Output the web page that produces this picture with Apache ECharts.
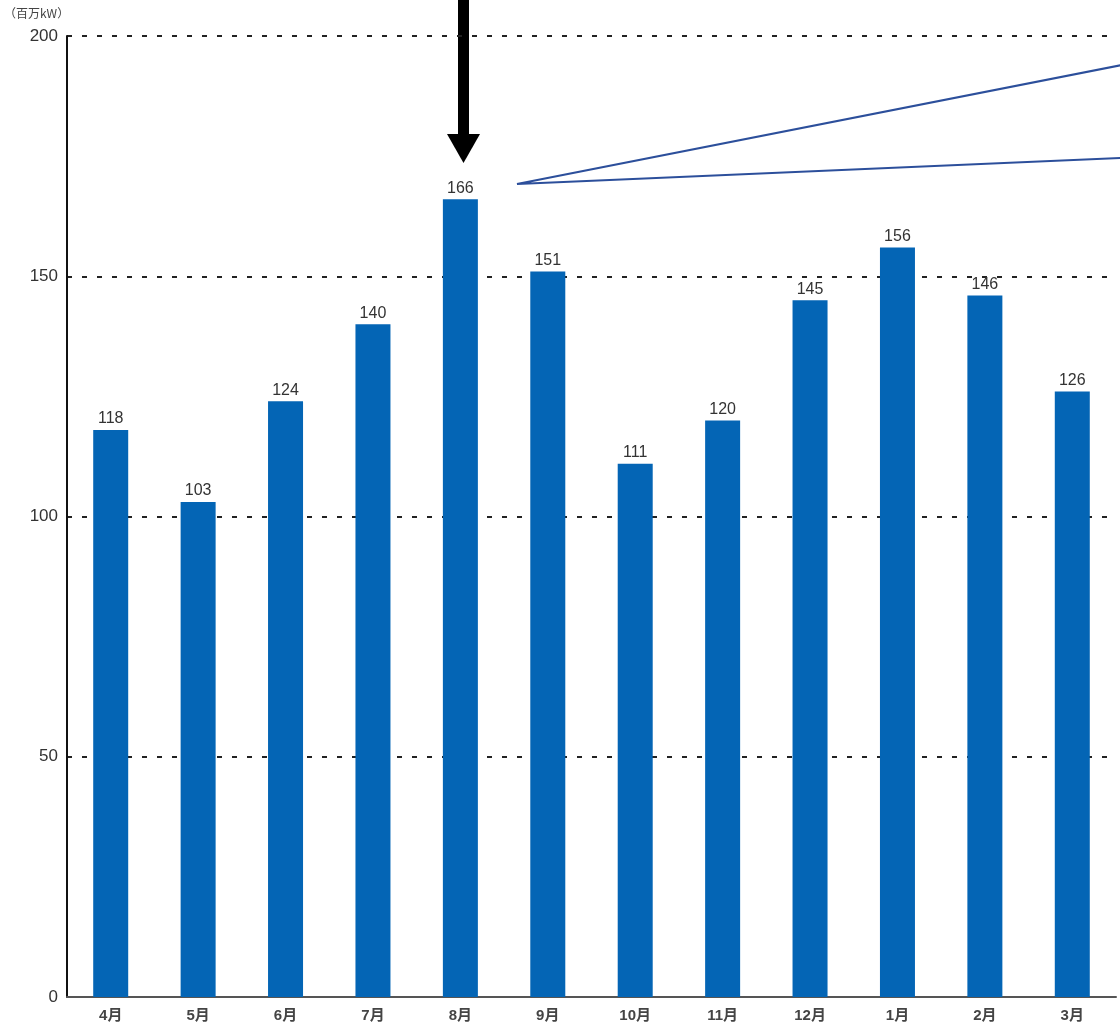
<!DOCTYPE html>
<html>
<head>
<meta charset="utf-8">
<script src="https://cdn.jsdelivr.net/npm/echarts@6/dist/echarts.min.js"></script>
<style>
	html, body { margin: 0; padding: 0; background: #fff; }
	#chart { width: 1120px; height: 1031px; }
</style>
</head>
<body>
<div id="chart"></div>
<script>
// 月別の最大電力（百万kW）
const months = ['4月', '5月', '6月', '7月', '8月', '9月', '10月', '11月', '12月', '1月', '2月', '3月'];
const demand = [118, 103, 124, 140, 166, 151, 111, 120, 145, 156, 146, 126];
const yTicks = [0, 50, 100, 150, 200];
const unitLabel = '（百万kW）';

(function() {
	let myChart = echarts.init(document.getElementById('chart'));
	let font = '"Liberation Sans", "Noto Sans CJK JP", sans-serif';

	let option = {
		animation: false,
		textStyle: { fontFamily: font },
		grid: {
			left: 67,
			right: 4,
			top: 36,
			bottom: 34
		},
		xAxis: {
			type: 'category',
			data: months,
			axisTick: { show: false },
			axisLine: {
				lineStyle: { color: '#555', width: 2 }
			},
			axisLabel: {
				color: '#444',
				fontSize: 15,
				fontWeight: 'bold',
				margin: 11,
				fontFamily: font
			}
		},
		yAxis: {
			type: 'value',
			min: yTicks[0],
			max: yTicks[yTicks.length - 1],
			interval: 50,
			axisLine: {
				show: true,
				lineStyle: { color: '#111', width: 2 }
			},
			axisTick: { show: false },
			axisLabel: {
				color: '#333',
				fontSize: 17,
				margin: 9,
				fontFamily: font
			},
			splitLine: {
				lineStyle: {
					color: '#222',
					width: 2,
					type: [5, 10]
				}
			}
		},
		series: [
			{
				type: 'bar',
				barWidth: 35,
				itemStyle: { color: '#0465b5' },
				label: {
					show: true,
					position: 'top',
					distance: 3,
					color: '#333',
					fontSize: 16,
					fontFamily: font
				},
				data: demand
			}
		],
		graphic: [
			{
				type: 'text',
				left: 4,
				top: 7,
				style: { text: unitLabel, fontSize: 12, fill: '#444', fontFamily: '"Noto Sans CJK JP", sans-serif' }
			},
			// 矢印
			{
				type: 'rect',
				shape: { x: 458, y: 0, width: 11, height: 136 },
				style: { fill: '#000' }
			},
			{
				type: 'polygon',
				shape: { points: [[447, 134], [480, 134], [463.5, 163]] },
				style: { fill: '#000' }
			},
			// 引き出し線
			{
				type: 'polyline',
				shape: { points: [[1122, 65], [517, 184], [1122, 158]] },
				style: { stroke: '#2c4f9b', lineWidth: 2, fill: null }
			}
		]
	};

	myChart.setOption(option);

	window.addEventListener('resize', function() {
		myChart.resize();
	});
})();
</script>
</body>
</html>
